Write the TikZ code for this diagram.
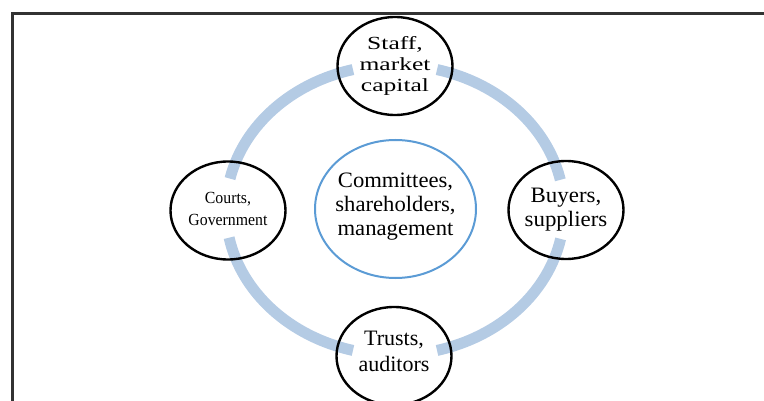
\documentclass[tikz,border=0pt]{standalone}
\usepackage{graphicx}
\usepackage{fontspec}
\setmainfont{Liberation Serif}
\usetikzlibrary{shapes.geometric}
\definecolor{ringblue}{RGB}{180,203,228}
\definecolor{midblue}{RGB}{91,155,213}
\definecolor{framegray}{RGB}{50,50,50}
\newcommand\sttxt[2]{\scalebox{#1}[1]{\begin{tabular}{@{}c@{}}#2\end{tabular}}}
\begin{document}
\begin{tikzpicture}[x=1pt,y=1pt,
  outer/.style={ellipse, draw=black, line width=2.4pt, minimum width=115pt, minimum height=98pt, inner sep=0pt},
  innerc/.style={ellipse, draw=midblue, line width=2pt, minimum width=161pt, minimum height=138pt, inner sep=0pt},
  lbl/.style={inner sep=0pt, text=black},
  ringarc/.style={draw=ringblue, line width=11pt}]
\useasboundingbox (0,0) rectangle (764,-401);
% frame
\coordinate (ftl) at (12.5,-13.5);
\coordinate (fr) at (764,-13.5);
\coordinate (fb) at (12.5,-401);
\draw[framegray, line width=2.5pt] (fb) -- (ftl) -- (fr);
% ring
\coordinate (ringc) at (395,-210);
\foreach \a/\b in {12/75.6, 104.4/167.5, 191/255.6, 284.4/348.5}
  \draw[ringarc] ([shift={(\a:169 and 145)}]ringc) arc[start angle=\a, end angle=\b, x radius=169, y radius=145];
% circles
\node[outer] (top) at (395,-66) {};
\node[outer] (bot) at (394,-356) {};
\node[outer] (left) at (228,-210.5) {};
\node[outer] (right) at (566,-210) {};
\node[innerc] (mid) at (395.5,-209) {};
% texts
\node[lbl, font=\fontsize{18.5}{21}\selectfont] (toptxt) at (top) {\sttxt{1.38}{Staff,\\market\\capital}};
\node[lbl, font=\fontsize{22}{24}\selectfont] (midtxt) at ([yshift=2]mid) {\sttxt{1.03}{Committees,\\shareholders,\\management}};
\node[lbl, font=\fontsize{17}{22}\selectfont] (lefttxt) at (left) {\sttxt{0.93}{Courts,\\Government}};
\node[lbl, font=\fontsize{22}{24}\selectfont] (righttxt) at (right) {\sttxt{1.04}{Buyers,\\suppliers}};
\node[lbl, font=\fontsize{22}{26}\selectfont] (bottxt) at ([yshift=3]bot) {\sttxt{1.0}{Trusts,\\auditors}};
\end{tikzpicture}
\end{document}
